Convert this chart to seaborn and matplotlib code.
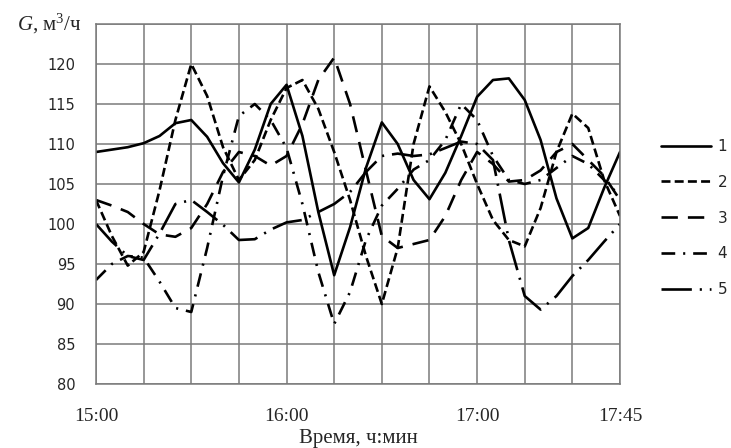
import pandas as pd
import seaborn as sns
import matplotlib.pyplot as plt

# Время наблюдений (шаг 5 мин)
times = ["15:00", "15:05", "15:10", "15:15", "15:20", "15:25", "15:30", "15:35",
         "15:40", "15:45", "15:50", "15:55", "16:00", "16:05", "16:10", "16:15",
         "16:20", "16:25", "16:30", "16:35", "16:40", "16:45", "16:50", "16:55",
         "17:00", "17:05", "17:10", "17:15", "17:20", "17:25", "17:30", "17:35",
         "17:40", "17:45"]

# Расход G, м3/ч по пяти сериям
g1 = [109, 109.3, 109.6, 110.1, 111, 112.6, 113, 110.9, 107.6, 105.2, 109.3, 115,
      117.4, 111, 101.5, 93.6, 99.6, 107, 112.7, 110, 105.5, 103.1, 106.4, 111,
      115.9, 118, 118.2, 115.5, 110.5, 103.2, 98.2, 99.5, 104.5, 109]
g2 = [103, 98.5, 94.8, 96.5, 104.2, 113, 120, 116, 109.6, 105.5, 108, 113,
      117, 118, 114.4, 109, 103, 96, 90, 97, 110, 117.2, 114, 110,
      105, 100.5, 98, 97.2, 102, 109, 113.8, 112, 105.5, 101]
g3 = [103, 102.3, 101.5, 100, 98.7, 98.4, 99.5, 102.5, 106.5, 109, 108.5, 107.3,
      108.5, 112.5, 118, 120.8, 115, 106.7, 98.5, 97, 97.5, 98, 101, 105.5,
      109, 107.5, 105.3, 105.5, 106.7, 109, 110, 108, 106, 103]
g4 = [93, 95, 96, 95.8, 92.8, 89.5, 89, 97, 106, 113.5, 115, 113,
      109.5, 102.5, 94, 87.5, 91.5, 98, 102.3, 104.4, 106.8, 108, 110.5, 115,
      113, 108.5, 105.5, 105, 105.5, 107, 108.5, 107.5, 105.5, 103.5]
g5 = [100, 97.8, 96, 95.5, 98.8, 102.5, 103, 101.5, 99.9, 98, 98.1, 99.3,
      100.2, 100.5, 101.5, 102.5, 104, 106.5, 108.5, 108.8, 108.5, 108.7, 109.5, 110.3,
      110, 108, 98, 91, 89.3, 91, 93.5, 95.5, 97.8, 100]

series_names = ["1", "2", "3", "4", "5"]
tick_labels = {0: "15:00", 60: "16:00", 120: "17:00", 165: "17:45"}

minutes = [int(s[:2]) * 60 + int(s[3:]) - 15 * 60 for s in times]
df = pd.DataFrame({
    "t": minutes * 5,
    "G": g1 + g2 + g3 + g4 + g5,
    "series": sum([[n] * len(times) for n in series_names], []),
})

sns.set_theme(style="white")
plt.rcParams["font.family"] = ["DejaVu Sans"]
plt.rcParams["mathtext.fontset"] = "custom"
plt.rcParams["mathtext.it"] = "Liberation Serif:italic"
plt.rcParams["mathtext.rm"] = "Liberation Serif"

fig = plt.figure(figsize=(7.31, 4.48), dpi=100)
ax = fig.add_axes([96 / 731, 64 / 448, 524 / 731, 360 / 448])

dash_map = {
    "1": "",
    "2": (3.4, 1.6),
    "3": (6.2, 3.8),
    "4": (5.2, 3.0, 0.8, 3.0),
    "5": (11.5, 3.0, 0.8, 3.0),
}
sns.lineplot(data=df, x="t", y="G", style="series", dashes=dash_map, color="black",
             linewidth=1.9, estimator=None, sort=False, legend=False, ax=ax)
for ln in ax.get_lines():
    ln.set_solid_joinstyle("round")
    ln.set_dash_joinstyle("round")

grid_c = "#7a7a7a"
ax.set_xlim(0, 165)
ax.set_ylim(80, 125)
ax.set_xticks(range(0, 166, 15))
ax.set_xticklabels([tick_labels.get(t, "") for t in range(0, 166, 15)],
                   fontfamily="Liberation Serif", fontsize=14)
ax.set_yticks(range(80, 126, 5))
ax.set_yticklabels([str(v) if v < 125 else "" for v in range(80, 126, 5)], fontsize=10.5)
ax.grid(True, color=grid_c, lw=1.1)
ax.set_axisbelow(True)
ax.tick_params(axis="both", direction="out", length=7, width=1.1, color=grid_c)
ax.tick_params(axis="y", pad=8)
ax.tick_params(axis="x", pad=10)
for sp in ax.spines.values():
    sp.set_color(grid_c)
    sp.set_linewidth(1.1)

ax.set_xlabel("Время, ч:мин", fontfamily="Liberation Serif", fontsize=15, labelpad=3)
ax.set_ylabel("")
ax.text(-0.028, 125, r"$G$, м$^3$/ч", transform=ax.get_yaxis_transform(),
        ha="right", va="center", fontfamily="Liberation Serif", fontsize=15)

fig.legend(ax.get_lines()[:5], series_names, loc="center left",
           bbox_to_anchor=(661 / 731, (448 - 218) / 448), frameon=False,
           handlelength=3.3, handletextpad=0.4, labelspacing=1.36, borderpad=0,
           borderaxespad=0, fontsize=11)

plt.savefig("out.png", dpi=100)
plt.close()
